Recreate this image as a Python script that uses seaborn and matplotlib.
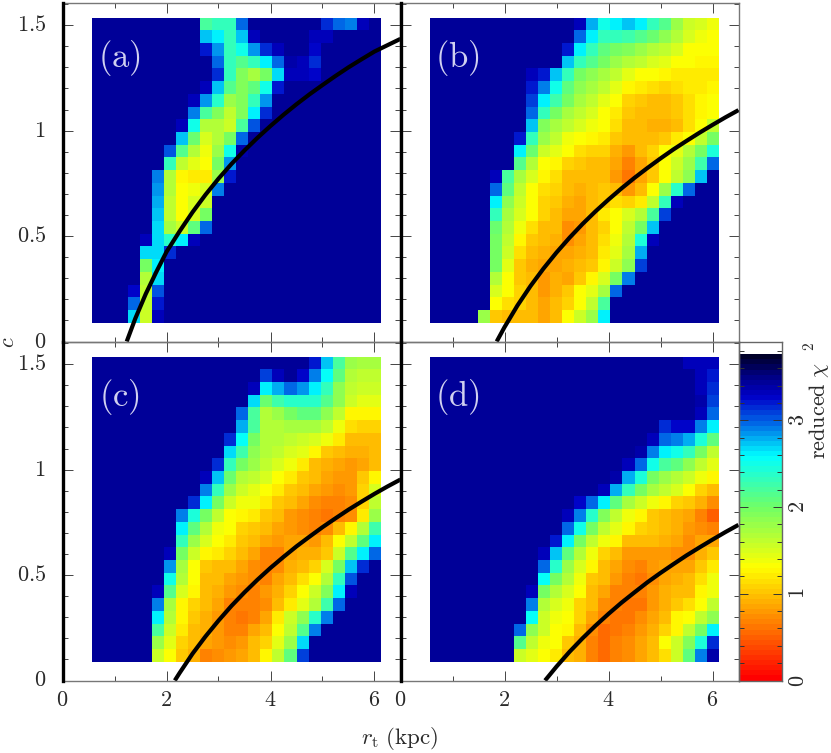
import numpy as np
import pandas as pd
import matplotlib
matplotlib.use('Agg')
import matplotlib.pyplot as plt
from matplotlib.colors import LinearSegmentedColormap
from matplotlib.ticker import MultipleLocator, FixedLocator
import seaborn as sns

# reduced chi^2: each row (top to bottom) is a first column + values,
# everything else in the row is the flat dark blue background
BACKGROUND = 3.45

a_rows = [
    (9, [2.2, 2.3, 2.3, 2.95, 3.45, 3.45, 3.45, 3.45, 3.45, 3.45, 3.15, 3.0, 2.9, 3.35]),
    (9, [2.75, 2.6, 2.35, 2.75, 3.35, 3.45, 3.45, 3.45, 3.45, 3.35, 3.35]),
    (9, [3.2, 2.85, 2.35, 2.5, 2.85, 3.15, 3.35, 3.45, 3.45, 3.25]),
    (10, [3.0, 2.35, 2.15, 2.3, 2.6, 3.0, 3.4, 3.3, 3.15]),
    (10, [3.15, 2.35, 1.9, 1.75, 2.0, 2.7, 3.3, 3.3, 3.25]),
    (9, [3.35, 2.75, 2.15, 1.9, 2.1, 2.5, 3.2]),
    (8, [3.3, 2.85, 2.4, 1.8, 1.9, 2.3, 2.85]),
    (8, [2.9, 2.2, 1.9, 1.6, 1.9, 2.6, 3.15]),
    (7, [3.3, 2.5, 1.7, 1.65, 1.55, 2.2, 3.05]),
    (7, [2.75, 2.05, 1.5, 1.7, 1.95, 2.95]),
    (6, [3.05, 2.15, 1.7, 1.4, 1.8, 2.5, 3.4]),
    (6, [2.3, 1.6, 1.45, 1.35, 1.95, 2.85]),
    (5, [2.9, 1.65, 1.25, 1.2, 1.2, 1.8, 3.2]),
    (5, [2.85, 1.65, 1.3, 1.4, 1.5, 2.9]),
    (5, [2.8, 1.6, 1.3, 1.5, 1.55]),
    (5, [2.75, 1.6, 1.3, 1.5, 1.95]),
    (5, [2.7, 1.75, 1.55, 2.1, 3.0]),
    (4, [3.35, 2.7, 2.4, 2.65, 3.3]),
    (4, [2.7, 2.7, 3.15]),
    (4, [2.0, 2.6]),
    (4, [1.7, 2.7]),
    (3, [3.25, 1.6, 3.05]),
    (3, [3.0, 1.6, 3.2]),
    (3, [2.7, 1.55, 3.35]),
]

b_rows = [
    (12, [3.35, 2.8, 2.5, 2.6, 2.75, 2.65, 2.35, 2.15, 1.8, 1.55, 1.5, 1.4]),
    (12, [3.0, 2.6, 2.3, 2.3, 2.25, 2.15, 2.05, 1.85, 1.65, 1.5, 1.4, 1.35]),
    (11, [3.2, 2.65, 2.35, 2.1, 2.0, 1.9, 1.8, 1.7, 1.6, 1.5, 1.35, 1.3, 1.3]),
    (11, [2.75, 2.35, 2.15, 1.95, 1.8, 1.7, 1.6, 1.5, 1.45, 1.35, 1.3, 1.25, 1.25]),
    (7, [3.42, 3.35, 3.2, 2.75, 2.35, 2.0, 1.85, 1.75, 1.6, 1.45, 1.35, 1.3, 1.25, 1.2, 1.2, 1.2, 1.2]),
    (8, [3.2, 2.9, 2.5, 2.1, 1.85, 1.75, 1.6, 1.45, 1.25, 1.2, 1.15, 1.1, 1.15, 1.2, 1.2, 1.25]),
    (8, [3.1, 2.6, 2.25, 1.95, 1.75, 1.6, 1.45, 1.3, 1.1, 1.05, 1.0, 1.0, 1.05, 1.15, 1.25, 1.3]),
    (8, [3.0, 2.3, 1.95, 1.75, 1.6, 1.5, 1.35, 1.2, 1.05, 1.0, 0.95, 0.95, 1.05, 1.15, 1.25, 1.3]),
    (8, [2.75, 1.9, 1.75, 1.6, 1.5, 1.4, 1.3, 1.15, 1.0, 0.95, 0.9, 0.9, 1.0, 1.15, 1.3, 1.6]),
    (7, [3.2, 2.35, 1.8, 1.6, 1.4, 1.35, 1.25, 1.2, 1.05, 0.95, 1.0, 1.0, 1.05, 1.2, 1.35, 1.6, 1.95]),
    (7, [2.6, 2.05, 1.55, 1.45, 1.3, 1.15, 1.1, 1.1, 0.9, 0.8, 1.0, 1.1, 1.3, 1.45, 1.7, 2.0, 2.45]),
    (7, [2.15, 1.65, 1.3, 1.25, 1.1, 1.05, 1.0, 1.0, 0.85, 0.65, 0.85, 1.05, 1.3, 1.55, 1.8, 2.25, 3.0]),
    (5, [3.3, 2.2, 1.75, 1.5, 1.25, 1.15, 1.0, 0.95, 0.95, 0.95, 0.8, 0.6, 0.85, 1.05, 1.35, 1.6, 1.85, 2.75]),
    (5, [3.0, 2.1, 1.6, 1.35, 1.15, 1.1, 0.95, 0.9, 1.0, 1.05, 1.0, 0.8, 1.0, 1.3, 1.8, 2.4, 2.95]),
    (5, [2.65, 1.85, 1.55, 1.3, 1.1, 1.05, 0.9, 0.85, 0.95, 1.05, 1.15, 1.1, 1.2, 1.6, 2.3, 3.3]),
    (5, [2.35, 1.75, 1.5, 1.3, 1.1, 0.95, 0.85, 0.85, 0.95, 1.2, 1.3, 1.5, 1.7, 2.2, 3.1]),
    (5, [2.05, 1.7, 1.4, 1.15, 1.0, 0.95, 0.75, 0.8, 0.95, 1.1, 1.35, 1.6, 1.95, 2.75]),
    (5, [2.0, 1.6, 1.25, 1.05, 0.95, 0.9, 0.75, 0.85, 0.95, 1.15, 1.4, 1.65, 2.45, 3.35]),
    (5, [2.0, 1.55, 1.15, 1.0, 0.9, 0.85, 0.85, 0.9, 1.0, 1.2, 1.45, 1.75, 2.8]),
    (5, [1.95, 1.45, 1.05, 0.9, 0.85, 0.85, 0.9, 0.95, 1.05, 1.25, 1.55, 1.85, 3.1]),
    (5, [1.65, 1.35, 1.05, 0.95, 0.8, 0.9, 0.85, 1.05, 1.25, 1.5, 2.0, 2.9]),
    (5, [1.5, 1.3, 1.1, 1.0, 0.8, 0.9, 1.05, 1.3, 1.45, 1.75, 3.0]),
    (5, [1.3, 1.15, 1.1, 1.0, 0.85, 0.95, 1.1, 1.35, 1.6, 2.2]),
    (4, [1.8, 1.05, 1.0, 1.0, 0.95, 0.85, 1.0, 1.3, 1.55, 1.8, 2.6]),
]

c_rows = [
    (18, [3.2, 2.75, 2.2, 1.8, 1.75, 1.75]),
    (14, [3.1, 3.3, 3.45, 3.25, 2.9, 2.55, 2.1, 1.7, 1.6, 1.6]),
    (13, [3.3, 2.6, 2.8, 3.0, 2.85, 2.6, 2.3, 1.85, 1.6, 1.55, 1.55]),
    (13, [2.7, 2.05, 2.25, 2.4, 2.4, 2.4, 2.15, 1.85, 1.55, 1.45, 1.45]),
    (12, [3.0, 2.2, 1.7, 1.8, 2.0, 2.1, 2.1, 1.85, 1.6, 1.25, 1.25, 1.25]),
    (12, [2.8, 2.2, 1.65, 1.7, 1.75, 1.75, 1.75, 1.6, 1.4, 1.15, 1.1, 1.1]),
    (11, [3.15, 2.55, 1.95, 1.65, 1.65, 1.6, 1.55, 1.5, 1.4, 1.2, 1.0, 0.95, 0.95]),
    (11, [2.7, 2.25, 1.85, 1.65, 1.6, 1.5, 1.45, 1.25, 1.05, 1.0, 0.9, 0.9, 0.95]),
    (10, [3.15, 2.35, 2.0, 1.8, 1.6, 1.5, 1.4, 1.2, 1.0, 0.9, 0.85, 0.8, 0.85, 0.95]),
    (9, [3.35, 2.75, 2.05, 1.7, 1.6, 1.5, 1.35, 1.2, 1.05, 0.95, 0.85, 0.8, 0.8, 1.05, 1.25]),
    (9, [2.9, 2.35, 1.8, 1.55, 1.45, 1.35, 1.2, 1.05, 0.95, 0.85, 0.8, 0.75, 0.8, 1.1, 1.5]),
    (8, [3.15, 2.6, 1.95, 1.55, 1.4, 1.4, 1.2, 1.05, 0.95, 0.85, 0.75, 0.7, 0.7, 0.75, 1.1, 1.6]),
    (7, [2.9, 2.45, 2.0, 1.6, 1.35, 1.25, 1.2, 1.05, 0.95, 0.8, 0.75, 0.7, 0.6, 0.7, 0.75, 1.2, 1.8]),
    (7, [2.65, 2.1, 1.7, 1.4, 1.3, 1.1, 1.05, 0.95, 0.85, 0.8, 0.75, 0.7, 0.75, 0.95, 1.25, 1.7, 2.25]),
    (7, [2.3, 1.8, 1.5, 1.35, 1.2, 1.05, 0.95, 0.85, 0.8, 0.85, 0.85, 0.8, 1.0, 1.35, 1.6, 2.1, 2.6]),
    (6, [3.35, 2.0, 1.55, 1.25, 1.2, 1.1, 1.0, 0.85, 0.7, 0.7, 0.85, 0.9, 0.9, 1.05, 1.55, 2.15, 2.6, 3.0]),
    (6, [2.85, 1.75, 1.35, 1.05, 1.0, 1.0, 0.85, 0.75, 0.65, 0.75, 0.9, 1.0, 1.1, 1.5, 1.95, 2.75, 3.15]),
    (6, [2.5, 1.65, 1.3, 1.0, 0.95, 0.85, 0.8, 0.75, 0.7, 0.85, 1.0, 1.15, 1.3, 1.65, 2.35, 3.05]),
    (5, [3.35, 2.15, 1.5, 1.25, 1.0, 0.9, 0.8, 0.75, 0.7, 0.8, 0.9, 1.1, 1.35, 1.55, 1.9, 2.65, 3.35]),
    (5, [2.9, 1.75, 1.25, 1.1, 0.95, 0.85, 0.7, 0.65, 0.65, 0.75, 0.95, 1.2, 1.45, 1.7, 2.25, 2.95]),
    (5, [2.6, 1.65, 1.25, 1.05, 0.9, 0.8, 0.7, 0.6, 0.7, 0.85, 1.2, 1.55, 1.85, 2.4, 2.9]),
    (5, [2.2, 1.55, 1.2, 1.0, 0.9, 0.8, 0.7, 0.7, 0.85, 1.0, 1.35, 1.6, 2.15, 2.9]),
    (5, [1.8, 1.45, 1.1, 0.95, 0.85, 0.8, 0.75, 0.8, 0.95, 1.1, 1.45, 1.8, 2.7]),
    (5, [1.55, 1.35, 1.05, 0.9, 0.7, 0.75, 0.8, 0.85, 0.95, 1.25, 1.6, 2.1, 3.1]),
]

d_rows = [
    (21, [3.3, 3.3, 3.3]),
    (21, [3.42, 3.35, 3.2]),
    (22, [3.35, 3.15]),
    (22, [3.4, 3.1]),
    (22, [3.3, 3.0]),
    (19, [3.15, 3.25, 3.25, 2.9, 2.6]),
    (18, [3.3, 2.95, 2.9, 2.8, 2.45, 2.1]),
    (17, [3.4, 2.9, 2.6, 2.5, 2.3, 1.95, 1.6]),
    (16, [3.3, 2.95, 2.5, 2.2, 2.1, 1.85, 1.6, 1.45]),
    (15, [3.4, 2.8, 2.45, 2.0, 1.8, 1.65, 1.55, 1.4, 1.25]),
    (14, [3.35, 2.8, 2.3, 2.0, 1.75, 1.6, 1.5, 1.3, 1.1, 0.95]),
    (12, [3.25, 2.95, 2.6, 2.1, 1.75, 1.55, 1.4, 1.25, 1.1, 1.05, 0.9, 0.75]),
    (11, [3.35, 2.9, 2.4, 1.9, 1.6, 1.4, 1.25, 1.05, 1.0, 0.9, 0.85, 0.65, 0.5]),
    (11, [3.0, 2.5, 2.0, 1.6, 1.45, 1.25, 1.1, 1.05, 0.95, 0.9, 0.8, 0.75, 0.7]),
    (10, [3.2, 2.6, 2.0, 1.6, 1.4, 1.25, 1.0, 0.95, 0.95, 0.9, 0.85, 0.75, 0.85, 0.85]),
    (9, [3.3, 2.75, 2.1, 1.65, 1.4, 1.1, 0.95, 0.8, 0.8, 0.8, 0.8, 0.75, 0.75, 0.9, 1.05]),
    (9, [3.0, 2.4, 1.8, 1.5, 1.25, 1.0, 0.85, 0.75, 0.7, 0.8, 0.85, 0.85, 0.85, 1.05, 1.2]),
    (9, [2.55, 2.0, 1.65, 1.4, 1.05, 0.95, 0.8, 0.7, 0.6, 0.75, 0.85, 0.9, 0.95, 1.15, 1.4]),
    (8, [3.3, 1.95, 1.65, 1.5, 1.3, 1.0, 0.85, 0.7, 0.65, 0.65, 0.8, 0.9, 1.0, 1.0, 1.25, 1.4]),
    (8, [2.9, 1.7, 1.5, 1.4, 1.1, 0.95, 0.75, 0.65, 0.6, 0.6, 0.8, 0.9, 1.05, 1.15, 1.3, 1.6]),
    (8, [2.55, 1.55, 1.4, 1.3, 1.1, 0.85, 0.7, 0.6, 0.6, 0.75, 0.85, 1.0, 1.25, 1.3, 1.6, 1.85]),
    (7, [2.95, 1.85, 1.55, 1.35, 1.25, 0.95, 0.75, 0.55, 0.6, 0.65, 0.8, 0.9, 1.1, 1.25, 1.6, 2.0, 2.6]),
    (7, [2.15, 1.6, 1.4, 1.3, 1.05, 0.9, 0.7, 0.55, 0.65, 0.75, 0.85, 1.0, 1.3, 1.55, 1.9, 2.45, 3.15]),
    (7, [1.55, 1.45, 1.3, 1.2, 1.0, 0.9, 0.7, 0.55, 0.65, 0.75, 0.85, 1.0, 1.15, 1.55, 2.1, 2.9, 3.4]),
]

# black curves, points (rt in kpc, c)
a_curve_x = [1.235, 1.4, 1.6, 1.8, 2.0, 2.25, 2.5, 2.75, 3.0, 3.25, 3.5, 3.75, 4.0, 4.25, 4.5, 4.75, 5.0, 5.25, 5.5, 5.75, 6.0, 6.25, 6.5]
a_curve_y = [0.0, 0.109, 0.225, 0.328, 0.425, 0.522, 0.613, 0.696, 0.772, 0.842, 0.906, 0.966, 1.022, 1.075, 1.125, 1.172, 1.216, 1.259, 1.3, 1.338, 1.375, 1.405, 1.435]
b_curve_x = [1.85, 2.0, 2.25, 2.5, 2.75, 3.0, 3.25, 3.5, 3.75, 4.0, 4.25, 4.5, 4.75, 5.0, 5.25, 5.5, 5.75, 6.0, 6.25, 6.5]
b_curve_y = [0.0, 0.068, 0.171, 0.263, 0.346, 0.422, 0.492, 0.557, 0.617, 0.673, 0.726, 0.776, 0.823, 0.868, 0.911, 0.951, 0.99, 1.027, 1.063, 1.097]
c_curve_x = [2.16, 2.25, 2.5, 2.75, 3.0, 3.25, 3.5, 3.75, 4.0, 4.25, 4.5, 4.75, 5.0, 5.25, 5.5, 5.75, 6.0, 6.25, 6.5]
c_curve_y = [0.0, 0.035, 0.127, 0.209, 0.284, 0.354, 0.418, 0.478, 0.534, 0.586, 0.636, 0.682, 0.727, 0.769, 0.81, 0.848, 0.885, 0.92, 0.953]
d_curve_x = [2.78, 3.0, 3.25, 3.5, 3.75, 4.0, 4.25, 4.5, 4.75, 5.0, 5.25, 5.5, 5.75, 6.0, 6.25, 6.5]
d_curve_y = [0.0, 0.066, 0.136, 0.2, 0.26, 0.316, 0.369, 0.418, 0.466, 0.51, 0.552, 0.593, 0.631, 0.668, 0.704, 0.738]

panel_names = ['(a)', '(b)', '(c)', '(d)']
xticks = [0, 2, 4, 6]
yticks = [0, 0.5, 1, 1.5]
ytick_labels = ['0', '0.5', '1', '1.5']
cbar_ticks = [0, 1, 2, 3]

# colour scale of the bar: red at 0, yellow near 1.3, cyan near 2.6, almost black at the top
cbar_max = 3.77
scale_levels = [0, 0.65, 1.3, 2.0, 2.6, 3.0, 3.3, 3.55, 3.77]
scale_colors = ['#ff0000', '#ff8000', '#ffff00', '#70ff66', '#00ffff', '#0064e6',
                '#0000c8', '#000082', '#00002a']

W, H = 831, 753
TEXT = '#2a2a2a'


def px_axes(fig, left, right, top, bottom, **kw):
    # axes placed by picture pixels
    return fig.add_axes([left / W, 1 - bottom / H, (right - left) / W, (bottom - top) / H], **kw)


def build_grid(rows):
    grid = np.full((24, 24), BACKGROUND)
    for i, (start, vals) in enumerate(rows):
        grid[i, start:start + len(vals)] = vals
    return pd.DataFrame(grid)


def rm(s):
    return '$\\mathrm{' + s + '}$'


cmap = LinearSegmentedColormap.from_list(
    'chi', [(l / cbar_max, c) for l, c in zip(scale_levels, scale_colors)], N=64)

plt.rcParams['mathtext.fontset'] = 'cm'

fig = plt.figure(figsize=(W / 100, H / 100), dpi=100)

panels = [
    (a_rows, a_curve_x, a_curve_y, 62.5, 400.5, 3, 341.5),
    (b_rows, b_curve_x, b_curve_y, 400.5, 738.5, 3, 341.5),
    (c_rows, c_curve_x, c_curve_y, 62.5, 400.5, 342, 680.5),
    (d_rows, d_curve_x, d_curve_y, 400.5, 738.5, 342, 680.5),
]

cax = px_axes(fig, 739, 781.5, 354.3, 680.5)

for n, (rows, cx, cy, left, right, top, bottom) in enumerate(panels):
    # heat map covers rt 0.57-6.12, c 0.09-1.535 inside the frame
    sx = (right - left) / 6.5
    sy = (bottom - top) / 1.605
    hax = px_axes(fig, left + 0.567 * sx, left + 6.12 * sx, bottom - 1.536 * sy, bottom - 0.089 * sy)
    sns.heatmap(build_grid(rows), ax=hax, cmap=cmap, vmin=0, vmax=cbar_max, square=False,
                xticklabels=False, yticklabels=False, cbar=(n == 3), cbar_ax=cax if n == 3 else None)
    hax.tick_params(left=False, bottom=False)

    ax = px_axes(fig, left, right, top, bottom)
    ax.patch.set_alpha(0)
    ax.set_xlim(0, 6.5)
    ax.set_ylim(0, 1.605)
    sns.lineplot(x=cx, y=cy, ax=ax, color='black', lw=3, solid_capstyle='butt', clip_on=True)
    ax.xaxis.set_major_locator(MultipleLocator(2))
    ax.xaxis.set_minor_locator(MultipleLocator(1))
    ax.yaxis.set_major_locator(MultipleLocator(0.5))
    ax.yaxis.set_minor_locator(MultipleLocator(0.1))
    ax.tick_params(which='major', direction='in', top=True, right=True, length=7.2, width=0.7,
                   color='#444444', labelbottom=False, labelleft=False)
    ax.tick_params(which='minor', direction='in', top=True, right=True, length=3.8, width=0.7,
                   color='#444444')
    for s in ax.spines.values():
        s.set_color('#777777')
        s.set_linewidth(1)
    ax.spines['left'].set_color('black')
    ax.spines['left'].set_linewidth(2.4)
    ax.spines['left'].set_zorder(5)
    ax.text(1.1, 1.345, rm(panel_names[n]), color='#d0d0f0', fontsize=25,
            ha='center', va='center')
    if n >= 2:
        for t in xticks:
            ax.text(t, -0.093, rm(str(t)), ha='center', va='center', fontsize=16, color=TEXT)
    if n % 2 == 0:
        for t, lab in zip(yticks, ytick_labels):
            ax.text(-0.32, t, rm(lab), ha='right', va='center', fontsize=16, color=TEXT)

cax.tick_params(left=False, right=False, labelleft=False, labelright=False)

# frame of the colour bar, a little taller than its coloured part
fax = px_axes(fig, 739, 781.5, 342.3, 680.5)
fax.patch.set_alpha(0)
fax.set_xlim(0, 1)
fax.set_ylim(0, 3.9)
fax.yaxis.set_major_locator(FixedLocator(cbar_ticks))
fax.yaxis.set_minor_locator(MultipleLocator(0.2))
fax.set_xticks([])
fax.tick_params(axis='y', which='major', direction='in', left=True, right=True, length=6.5, width=0.7,
                color='#333333', labelleft=False)
fax.tick_params(axis='y', which='minor', direction='in', left=True, right=True, length=3.6, width=0.7,
                color='#333333')
for s in fax.spines.values():
    s.set_color('#666666')
    s.set_linewidth(1)
for t in cbar_ticks:
    fax.text(1.4, t, rm(str(t)), rotation=90, ha='center', va='center', fontsize=16, color=TEXT,
             clip_on=False)
fig.text(819 / W, 1 - 410 / H, '$\\mathrm{reduced}\\ \\chi$', rotation=90, ha='center', va='center',
         fontsize=16, color=TEXT)
fig.text(810 / W, 1 - 347 / H, rm('2'), rotation=90, ha='center', va='center', fontsize=11, color=TEXT)

fig.text(400 / W, 1 - 739 / H, '$r_{\\rm t}\\ \\mathrm{(kpc)}$', ha='center', va='center', fontsize=16.5, color=TEXT)
fig.text(8 / W, 1 - 342 / H, '$c$', rotation=90, ha='center', va='center', fontsize=16, color=TEXT)

fig.savefig('out.png', dpi=100, facecolor='white')
